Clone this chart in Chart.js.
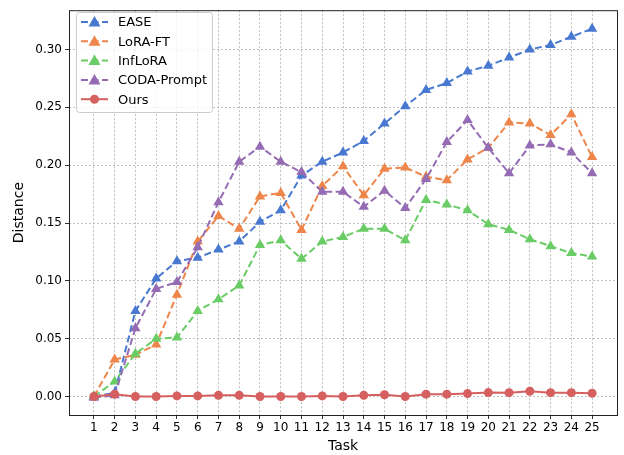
<!DOCTYPE html>
<html>
<head>
<meta charset="utf-8">
<script src="https://cdn.jsdelivr.net/npm/chart.js@4.4.1/dist/chart.umd.min.js"></script>
<style>
    html, body { margin: 0; padding: 0; background: #fff; }
    #wrap { width: 624px; height: 455px; }
</style>
</head>
<body>
<div id="wrap"><canvas id="chart" width="624" height="455"></canvas></div>
<script>
const tasks = [1, 2, 3, 4, 5, 6, 7, 8, 9, 10, 11, 12, 13, 14, 15, 16, 17, 18, 19, 20, 21, 22, 23, 24, 25];
const yTicks = [0, 0.05, 0.1, 0.15, 0.2, 0.25, 0.3];

const easeValues = [0.0, 0.003, 0.074, 0.102, 0.117, 0.120, 0.127, 0.134, 0.151, 0.161, 0.191, 0.203, 0.211, 0.221, 0.236, 0.251, 0.265, 0.271, 0.281, 0.286, 0.293, 0.300, 0.304, 0.311, 0.318];
const loraValues = [0.0, 0.032, 0.036, 0.045, 0.088, 0.134, 0.156, 0.145, 0.173, 0.176, 0.144, 0.182, 0.199, 0.174, 0.197, 0.198, 0.190, 0.187, 0.205, 0.215, 0.237, 0.236, 0.226, 0.244, 0.207];
const infloraValues = [0.0, 0.013, 0.037, 0.050, 0.051, 0.074, 0.084, 0.096, 0.131, 0.135, 0.119, 0.134, 0.138, 0.145, 0.145, 0.135, 0.170, 0.166, 0.161, 0.149, 0.144, 0.136, 0.130, 0.124, 0.121];
const codaValues = [-0.001, 0.001, 0.059, 0.093, 0.099, 0.129, 0.168, 0.203, 0.216, 0.203, 0.194, 0.177, 0.177, 0.164, 0.178, 0.163, 0.188, 0.220, 0.239, 0.215, 0.193, 0.217, 0.218, 0.211, 0.193];
const oursValues = [0.0, 0.002, 0.0, 0.0, 0.0005, 0.0005, 0.001, 0.001, 0.0, 0.0, 0.0, 0.0005, 0.0, 0.001, 0.0015, 0.0, 0.002, 0.002, 0.0025, 0.0034, 0.0033, 0.0045, 0.0033, 0.0033, 0.0028];

const seriesNames = ["EASE", "LoRA-FT", "InfLoRA", "CODA-Prompt", "Ours"];
const seriesColors = ["#4878d0", "#ee854a", "#6acc64", "#956cb4", "#d65f5f"];
const seriesValues = [easeValues, loraValues, infloraValues, codaValues, oursValues];

const FONT = "'DejaVu Sans', sans-serif";
const dash = [7, 3.5];

const datasets = seriesNames.map((name, i) => {
    const isOurs = name === "Ours";
    return {
        label: name,
        data: tasks.map((t, j) => ({ x: t, y: seriesValues[i][j] })),
        borderColor: seriesColors[i],
        backgroundColor: seriesColors[i],
        borderWidth: 2,
        borderDash: isOurs ? [] : dash,
        pointStyle: isOurs ? "circle" : "triangle",
        pointRadius: isOurs ? 4.5 : 6,
        pointBorderWidth: 0,
        tension: 0,
        order: isOurs ? 0 : 5 - i,
    };
});

const framePlugin = {
    id: "frame",
    afterDatasetsDraw(chart) {
        const { ctx, chartArea: a } = chart;
        ctx.save();
        ctx.strokeStyle = "#222";
        ctx.lineWidth = 1;
        ctx.strokeRect(a.left + 0.5, a.top + 0.5, a.right - a.left, a.bottom - a.top);
        ctx.restore();
    },
    afterDraw(chart) {
        const ctx = chart.ctx;
        const bx = 76, by = 12, bw = 136, bh = 100;
        ctx.save();
        ctx.fillStyle = "rgba(255,255,255,0.8)";
        ctx.strokeStyle = "#cccccc";
        ctx.lineWidth = 1;
        ctx.beginPath();
        ctx.roundRect(bx + 0.5, by + 0.5, bw, bh, 3);
        ctx.fill();
        ctx.stroke();
        ctx.font = "13px " + FONT;
        ctx.textBaseline = "middle";
        seriesNames.forEach((name, i) => {
            const y = 22 + i * 19.3;
            const isOurs = name === "Ours";
            ctx.strokeStyle = seriesColors[i];
            ctx.fillStyle = seriesColors[i];
            ctx.lineWidth = 2;
            ctx.setLineDash(isOurs ? [] : dash);
            ctx.beginPath();
            ctx.moveTo(81, y);
            ctx.lineTo(108, y);
            ctx.stroke();
            ctx.setLineDash([]);
            ctx.beginPath();
            if (isOurs) {
                ctx.arc(94.5, y, 4.5, 0, Math.PI * 2);
            } else {
                ctx.moveTo(94.5, y - 6);
                ctx.lineTo(100.5, y + 4.5);
                ctx.lineTo(88.5, y + 4.5);
                ctx.closePath();
            }
            ctx.fill();
            ctx.fillStyle = "#000";
            ctx.textAlign = "left";
            ctx.fillText(name, 118, y + 1);
        });
        ctx.restore();
    },
};

const gridOpts = {
    color: "#b0b0b0",
    tickBorderDash: [],
    tickColor: "#000",
    tickLength: 4,
    lineWidth: 0.8,
};

new Chart(document.getElementById("chart"), {
    type: "line",
    data: { datasets },
    options: {
        responsive: false,
        animation: false,
        layout: { padding: { top: 5, right: 7, left: 11, bottom: 0 } },
        plugins: {
            legend: { display: false },
            tooltip: { enabled: false },
        },
        scales: {
            x: {
                type: "linear",
                min: -0.2,
                max: 26.2,
                afterBuildTicks: (axis) => {
                    axis.ticks = tasks.map((v) => ({ value: v }));
                },
                afterFit: (axis) => {
                    axis.height = 40;
                },
                grid: gridOpts,
                border: { display: false, dash: [2, 2] },
                ticks: {
                    color: "#000",
                    font: { family: FONT, size: 12 },
                    padding: 2,
                    maxRotation: 0,
                    autoSkip: false,
                    callback: (v) => String(v),
                },
                title: {
                    display: true,
                    text: "Task",
                    color: "#000",
                    font: { family: FONT, size: 14 },
                    padding: { top: 0, bottom: 0 },
                },
            },
            y: {
                min: -0.016,
                max: 0.334,
                afterBuildTicks: (axis) => {
                    axis.ticks = yTicks.map((v) => ({ value: v }));
                },
                afterFit: (axis) => {
                    axis.width = 58;
                },
                grid: gridOpts,
                border: { display: false, dash: [2, 2] },
                ticks: {
                    color: "#000",
                    font: { family: FONT, size: 12 },
                    padding: 3,
                    callback: (v) => v.toFixed(2),
                },
                title: {
                    display: true,
                    text: "Distance",
                    color: "#000",
                    font: { family: FONT, size: 14 },
                    padding: { top: 0, bottom: 4 },
                },
            },
        },
    },
    plugins: [framePlugin],
});
</script>
</body>
</html>
